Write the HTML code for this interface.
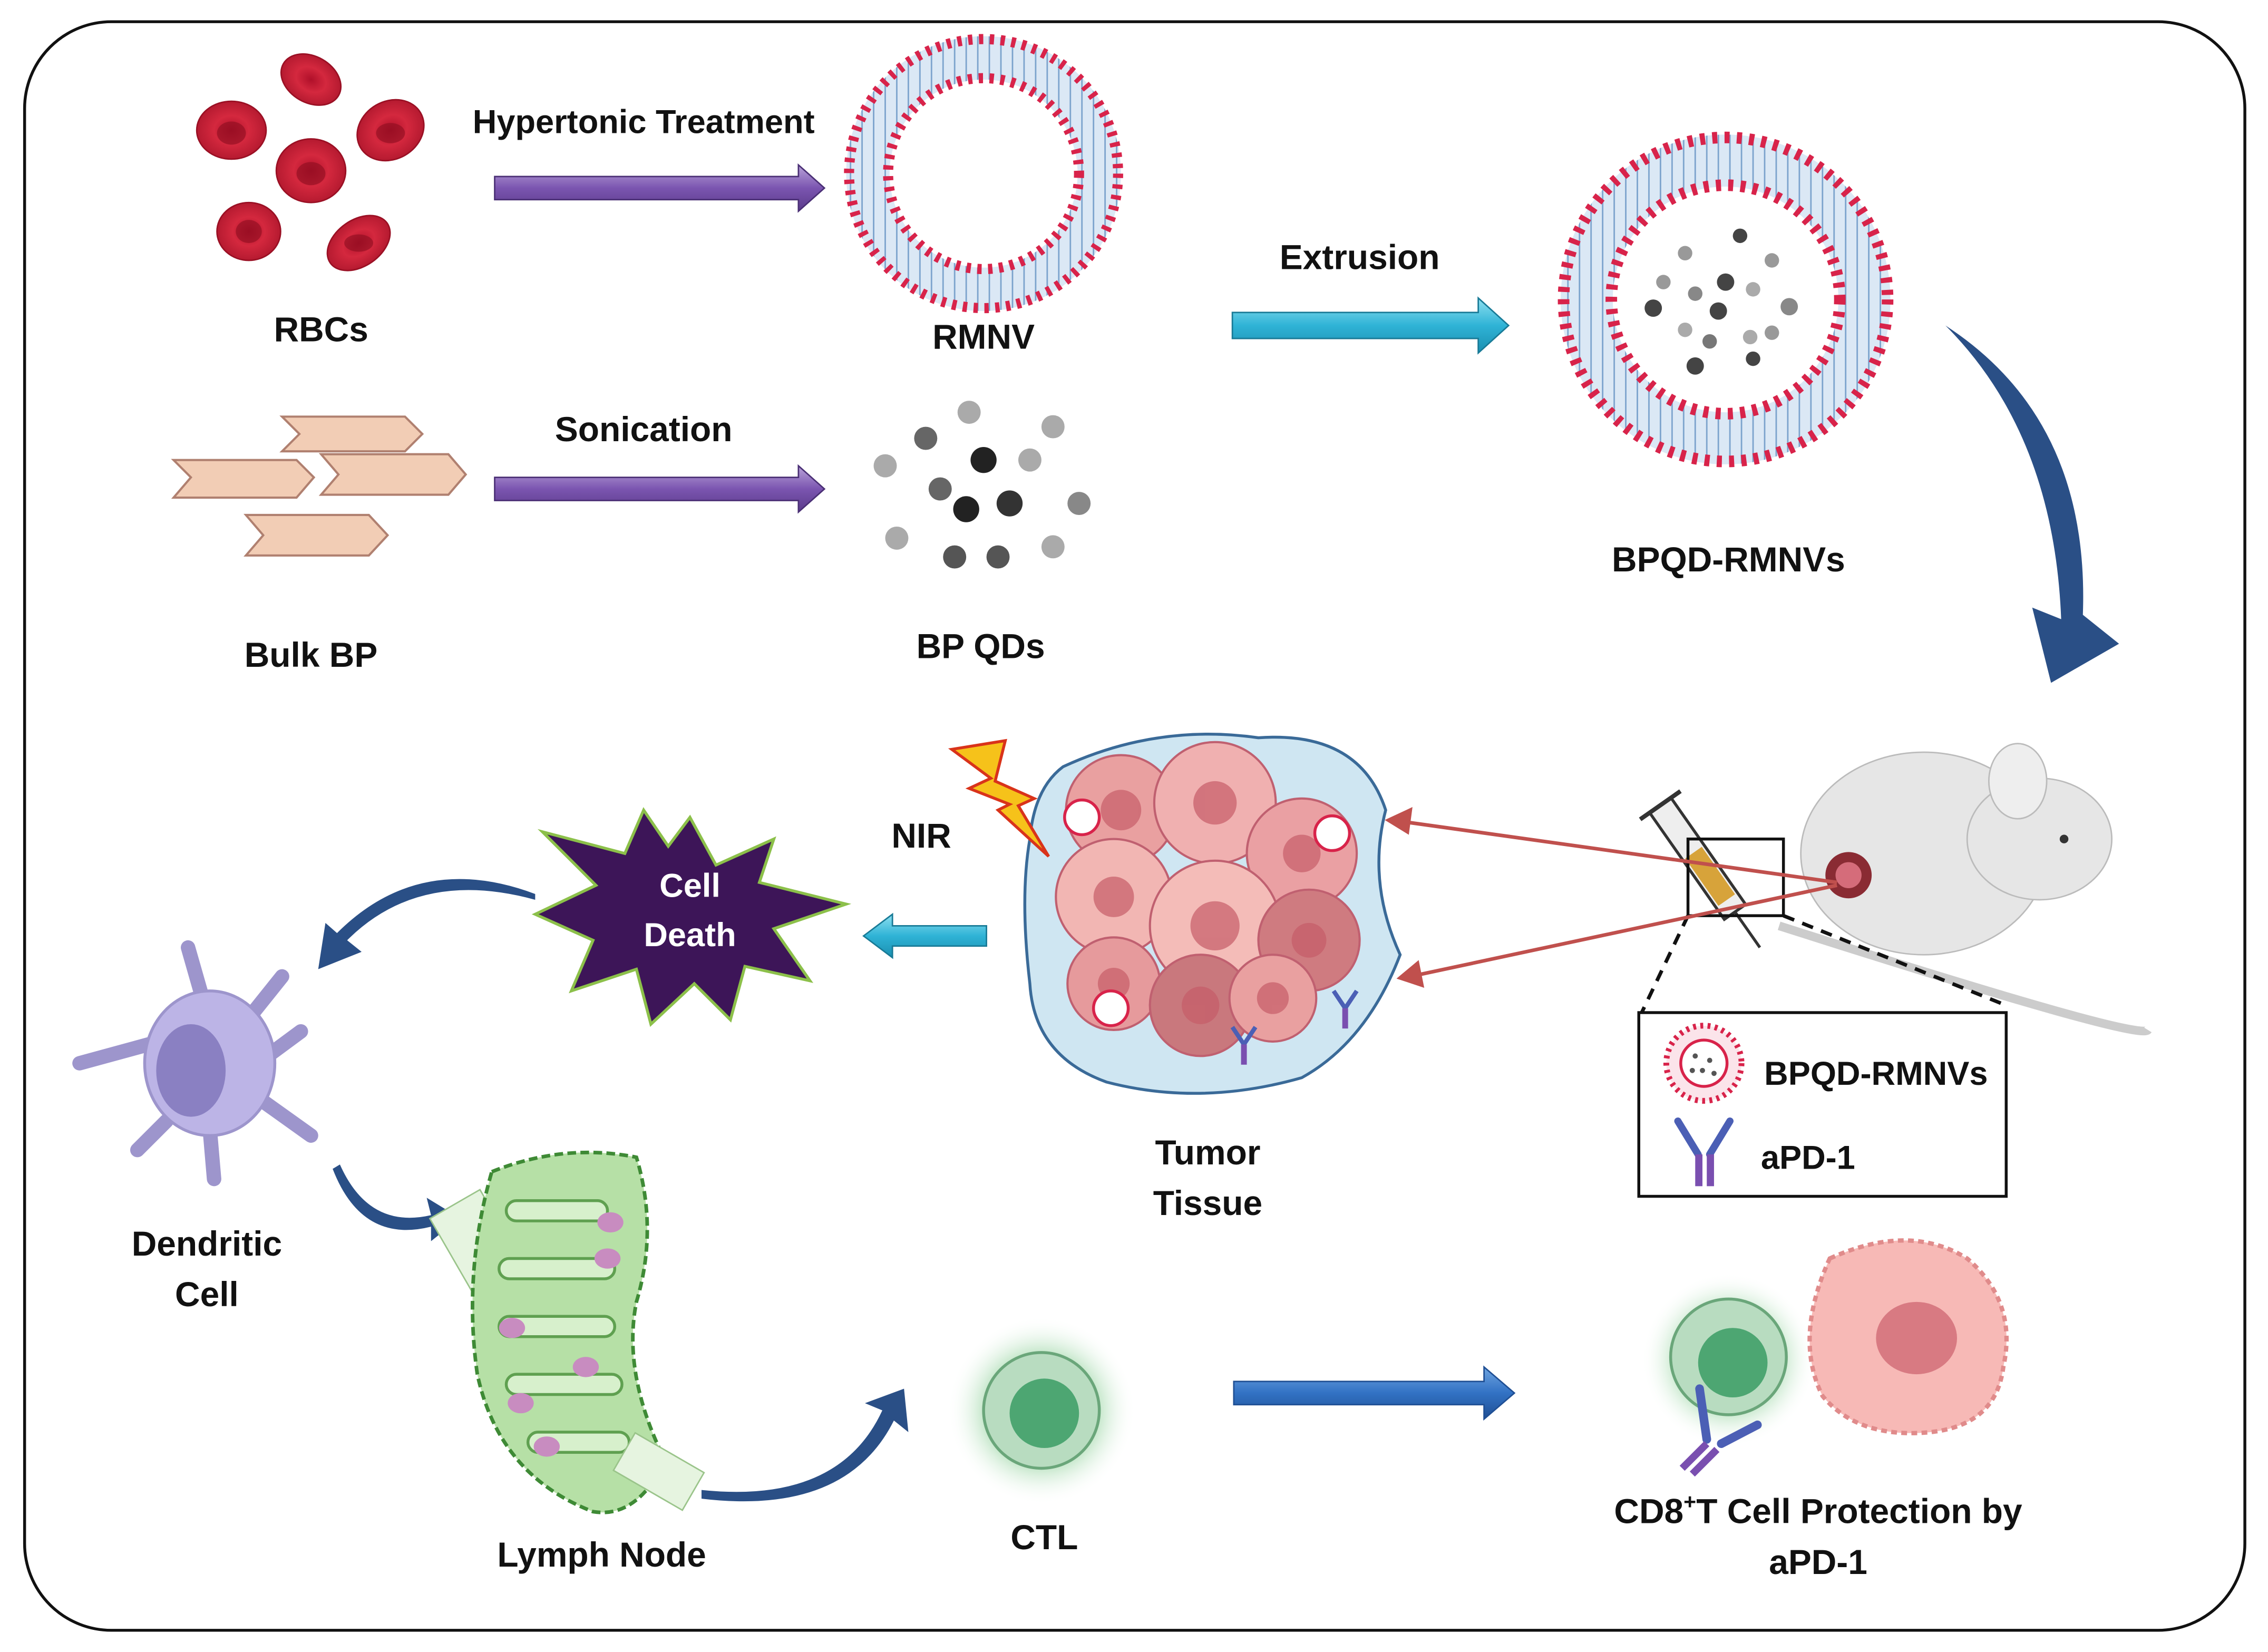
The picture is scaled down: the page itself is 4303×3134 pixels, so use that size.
<!DOCTYPE html>
<html><head><meta charset="utf-8"><style>
html,body{margin:0;padding:0;background:#fff}
svg{display:block}
text{font-family:"Liberation Sans",sans-serif;font-weight:bold;fill:#111}
</style></head><body>
<svg width="4303" height="3134" viewBox="0 0 1568 1142" xmlns="http://www.w3.org/2000/svg">
<defs>
<linearGradient id="pur" x1="0" y1="0" x2="0" y2="1"><stop offset="0" stop-color="#b9a3d9"/><stop offset="0.5" stop-color="#7b55b0"/><stop offset="1" stop-color="#5a3a8a"/></linearGradient>
<linearGradient id="cy" x1="0" y1="0" x2="0" y2="1"><stop offset="0" stop-color="#8ee0f0"/><stop offset="0.5" stop-color="#2fb3d6"/><stop offset="1" stop-color="#1a8fb0"/></linearGradient>
<linearGradient id="bl" x1="0" y1="0" x2="0" y2="1"><stop offset="0" stop-color="#6fa4e0"/><stop offset="0.5" stop-color="#3272c4"/><stop offset="1" stop-color="#1f4f94"/></linearGradient>
<radialGradient id="glow"><stop offset="0.5" stop-color="#9fd7a8"/><stop offset="1" stop-color="#fff" stop-opacity="0"/></radialGradient>
<radialGradient id="rbc"><stop offset="0" stop-color="#b0102a"/><stop offset="0.5" stop-color="#d4283e"/><stop offset="1" stop-color="#b51a30"/></radialGradient>
<pattern id="memb" width="8" height="8" patternUnits="userSpaceOnUse"><rect width="8" height="8" fill="#dbe8f5"/><line x1="4" y1="0" x2="4" y2="8" stroke="#7aa2cc" stroke-width="1"/></pattern>
</defs>
<rect x="17" y="15" width="1535" height="1112" rx="60" fill="#fff" stroke="#111" stroke-width="2"/>

<!-- RBCs -->
<g fill="url(#rbc)" stroke="#9a1024" stroke-width="1">
<ellipse cx="215" cy="55" rx="22" ry="16" transform="rotate(30 215 55)"/>
<ellipse cx="160" cy="90" rx="24" ry="20"/>
<ellipse cx="270" cy="90" rx="24" ry="20" transform="rotate(-30 270 90)"/>
<ellipse cx="215" cy="118" rx="24" ry="22"/>
<ellipse cx="172" cy="160" rx="22" ry="20"/>
<ellipse cx="248" cy="168" rx="24" ry="16" transform="rotate(-35 248 168)"/>
</g>
<g fill="#8c0d20" opacity="0.6"><ellipse cx="160" cy="92" rx="10" ry="8"/><ellipse cx="215" cy="120" rx="10" ry="8"/><ellipse cx="172" cy="160" rx="9" ry="8"/><ellipse cx="270" cy="92" rx="10" ry="7"/><ellipse cx="248" cy="168" rx="10" ry="6"/></g>
<text x="222" y="236" font-size="24" text-anchor="middle">RBCs</text>

<!-- purple arrows -->
<g fill="url(#pur)" stroke="#4a2f75" stroke-width="1">
<polygon points="342,122 552,122 552,114 570,130 552,146 552,138 342,138"/>
<polygon points="342,330 552,330 552,322 570,338 552,354 552,346 342,346"/>
</g>
<text x="445" y="92" font-size="23" text-anchor="middle">Hypertonic Treatment</text>
<text x="445" y="305" font-size="24" text-anchor="middle">Sonication</text>

<!-- RMNV -->
<circle cx="680" cy="120" r="80" fill="none" stroke="url(#memb)" stroke-width="30"/>
<circle cx="680" cy="120" r="93" fill="none" stroke="#d8234a" stroke-width="7" stroke-dasharray="3 4.5"/>
<circle cx="680" cy="120" r="66" fill="none" stroke="#d8234a" stroke-width="7" stroke-dasharray="3 4.5"/>
<text x="680" y="241" font-size="24" text-anchor="middle">RMNV</text>

<!-- Bulk BP -->
<g fill="#f2cdb5" stroke="#b08070" stroke-width="1.5">
<polygon points="195,288 280,288 292,300 280,312 195,312 207,300"/><polygon points="120,318 205,318 217,330 205,344 120,344 132,330"/>
<polygon points="222,314 310,314 322,328 310,342 222,342 234,328"/><polygon points="170,356 255,356 268,370 255,384 170,384 182,370"/>
</g>
<text x="215" y="461" font-size="24" text-anchor="middle">Bulk BP</text>

<!-- BP QDs -->
<g>
<circle cx="670" cy="285" r="8" fill="#aaa"/><circle cx="728" cy="295" r="8" fill="#aaa"/><circle cx="640" cy="303" r="8" fill="#666"/>
<circle cx="680" cy="318" r="9" fill="#222"/><circle cx="712" cy="318" r="8" fill="#aaa"/><circle cx="612" cy="322" r="8" fill="#aaa"/>
<circle cx="650" cy="338" r="8" fill="#666"/><circle cx="668" cy="352" r="9" fill="#222"/><circle cx="698" cy="348" r="9" fill="#333"/>
<circle cx="746" cy="348" r="8" fill="#888"/><circle cx="620" cy="372" r="8" fill="#aaa"/><circle cx="660" cy="385" r="8" fill="#555"/>
<circle cx="690" cy="385" r="8" fill="#555"/><circle cx="728" cy="378" r="8" fill="#aaa"/>
</g>
<text x="678" y="455" font-size="24" text-anchor="middle">BP QDs</text>

<!-- Extrusion -->
<polygon points="852,216 1022,216 1022,206 1043,225 1022,244 1022,234 852,234" fill="url(#cy)" stroke="#187a96"/>
<text x="940" y="186" font-size="24" text-anchor="middle">Extrusion</text>

<!-- BPQD-RMNV -->
<circle cx="1193" cy="207" r="96" fill="none" stroke="url(#memb)" stroke-width="36"/>
<circle cx="1193" cy="207" r="112" fill="none" stroke="#d8234a" stroke-width="8" stroke-dasharray="3.5 5"/>
<circle cx="1193" cy="207" r="79" fill="none" stroke="#d8234a" stroke-width="8" stroke-dasharray="3.5 5"/>
<g fill="#444"><circle cx="1203" cy="163" r="5"/><circle cx="1165" cy="175" r="5" fill="#999"/><circle cx="1225" cy="180" r="5" fill="#999"/><circle cx="1193" cy="195" r="6"/><circle cx="1150" cy="195" r="5" fill="#999"/><circle cx="1143" cy="213" r="6"/><circle cx="1172" cy="203" r="5" fill="#888"/><circle cx="1212" cy="200" r="5" fill="#aaa"/><circle cx="1188" cy="215" r="6"/><circle cx="1237" cy="212" r="6" fill="#888"/><circle cx="1165" cy="228" r="5" fill="#aaa"/><circle cx="1210" cy="233" r="5" fill="#aaa"/><circle cx="1182" cy="236" r="5" fill="#777"/><circle cx="1225" cy="230" r="5" fill="#999"/><circle cx="1172" cy="253" r="6"/><circle cx="1212" cy="248" r="5"/></g>
<text x="1195" y="395" font-size="24" text-anchor="middle">BPQD-RMNVs</text>

<!-- big curved arrow -->
<path d="M1345,225 Q1445,290 1440,425 L1465,445 L1418,472 L1405,420 L1425,428 Q1420,300 1345,225 Z" fill="#2a4f86"/>

<!-- Mouse -->
<g>
<path d="M1230,640 Q1480,720 1485,712" fill="none" stroke="#ccc" stroke-width="6"/>
<ellipse cx="1330" cy="590" rx="85" ry="70" fill="#e6e6e6" stroke="#bbb"/>
<ellipse cx="1410" cy="580" rx="50" ry="42" fill="#e6e6e6" stroke="#bbb"/>
<ellipse cx="1395" cy="540" rx="20" ry="26" fill="#eee" stroke="#bbb"/>
<circle cx="1427" cy="580" r="3" fill="#333"/>
<circle cx="1278" cy="605" r="16" fill="#8a2b33"/><circle cx="1278" cy="605" r="9" fill="#d56c7a"/>
</g>
<!-- syringe -->
<g transform="rotate(55 1170 590)"><rect x="1130" y="580" width="90" height="18" fill="#eee" stroke="#333" stroke-width="2"/><rect x="1170" y="582" width="40" height="14" fill="#d7a33a"/><line x1="1220" y1="589" x2="1250" y2="589" stroke="#333" stroke-width="2"/><line x1="1130" y1="572" x2="1130" y2="606" stroke="#333" stroke-width="3"/></g>
<rect x="1167" y="580" width="66" height="53" fill="none" stroke="#111" stroke-width="2"/>
<line x1="1167" y1="633" x2="1135" y2="700" stroke="#111" stroke-width="2.5" stroke-dasharray="8 6"/>
<line x1="1233" y1="633" x2="1387" y2="695" stroke="#111" stroke-width="2.5" stroke-dasharray="8 6"/>
<!-- red arrows -->
<g stroke="#c0504d" stroke-width="2.5" fill="#c0504d">
<line x1="1270" y1="610" x2="970" y2="568"/><polygon points="960,567 975,560 973,575"/>
<line x1="1270" y1="612" x2="980" y2="674"/><polygon points="968,676 980,666 983,681"/>
</g>
<!-- legend -->
<rect x="1133" y="700" width="254" height="127" fill="#fff" stroke="#111" stroke-width="2"/>
<circle cx="1178" cy="735" r="26" fill="#fbe4ea" stroke="#d8234a" stroke-width="4" stroke-dasharray="2 3"/>
<circle cx="1178" cy="735" r="16" fill="#fff" stroke="#d8234a" stroke-width="2"/>
<g fill="#555"><circle cx="1172" cy="730" r="1.8"/><circle cx="1182" cy="733" r="1.8"/><circle cx="1177" cy="740" r="1.8"/><circle cx="1185" cy="742" r="1.8"/><circle cx="1170" cy="740" r="1.8"/></g>
<text x="1297" y="750" font-size="23" text-anchor="middle">BPQD-RMNVs</text>
<g stroke="#4b5fb5" stroke-width="5" stroke-linecap="round" fill="none"><path d="M1160,775 L1174,798"/><path d="M1196,775 L1182,798"/></g>
<rect x="1172" y="798" width="5" height="22" fill="#7a4fb0"/><rect x="1180" y="798" width="5" height="22" fill="#7a4fb0"/>
<text x="1250" y="808" font-size="23" text-anchor="middle">aPD-1</text>

<!-- Tumor -->
<path d="M735,530 Q800,500 870,510 Q940,505 958,560 Q945,610 968,660 Q945,720 900,745 Q830,765 765,748 Q715,730 712,680 Q705,620 712,580 Q715,545 735,530 Z" fill="#cfe6f2" stroke="#3a6a98" stroke-width="2"/>
<g stroke="#c06070" stroke-width="1.5">
<circle cx="775" cy="560" r="38" fill="#e9a0a0"/><circle cx="840" cy="555" r="42" fill="#f0b0b0"/><circle cx="900" cy="590" r="38" fill="#eaa0a3"/>
<circle cx="770" cy="620" r="40" fill="#f2b6b3"/><circle cx="840" cy="640" r="45" fill="#f4bcb8"/><circle cx="905" cy="650" r="35" fill="#cf7b80"/>
<circle cx="770" cy="680" r="32" fill="#e69a9c"/><circle cx="830" cy="695" r="35" fill="#c9787d"/><circle cx="880" cy="690" r="30" fill="#e9a0a0"/>
</g>
<g fill="#c65c68" opacity="0.7"><circle cx="775" cy="560" r="14"/><circle cx="840" cy="555" r="15"/><circle cx="900" cy="590" r="13"/><circle cx="770" cy="620" r="14"/><circle cx="840" cy="640" r="17"/><circle cx="905" cy="650" r="12"/><circle cx="770" cy="680" r="11"/><circle cx="830" cy="695" r="13"/><circle cx="880" cy="690" r="11"/></g>
<g fill="#fff" stroke="#d8234a" stroke-width="2"><circle cx="748" cy="565" r="12"/><circle cx="921" cy="576" r="12"/><circle cx="768" cy="697" r="12"/></g>
<g stroke="#4b5fb5" stroke-width="3" fill="none"><path d="M852,710 L860,722 L868,710"/><path d="M922,685 L930,697 L938,685"/></g>
<g fill="#7a4fb0"><rect x="858" y="722" width="4" height="14"/><rect x="928" y="697" width="4" height="14"/></g>
<text x="835" y="805" font-size="24" text-anchor="middle">Tumor</text>
<text x="835" y="840" font-size="24" text-anchor="middle">Tissue</text>
<!-- lightning -->
<polygon points="658,518 695,512 688,540 715,552 704,557 725,592 690,560 698,556 670,545 685,538" fill="#f6c21a" stroke="#d9331a" stroke-width="2"/>
<text x="637" y="586" font-size="24" text-anchor="middle">NIR</text>
<polygon points="682,640 617,640 617,632 597,647 617,662 617,654 682,654" fill="url(#cy)" stroke="#187a96"/>

<!-- Cell death star -->
<polygon points="477,565 495,598 535,580 525,610 585,625 535,642 560,678 515,668 505,705 480,680 450,708 440,670 395,685 410,650 370,632 412,612 375,575 432,590 445,560 462,585" fill="#3d1558" stroke="#8cc04a" stroke-width="2"/>
<text x="477" y="620" font-size="23" text-anchor="middle" style="fill:#fff">Cell</text>
<text x="477" y="654" font-size="23" text-anchor="middle" style="fill:#fff">Death</text>
<!-- curved arrows -->
<path d="M370,622 Q290,600 240,650 L250,658 L220,670 L225,638 L233,645 Q290,588 370,618 Z" fill="#2a4f86"/>
<path d="M235,805 Q255,850 298,840 L295,828 L318,842 L298,858 L298,848 Q250,860 230,808 Z" fill="#2a4f86"/>
<path d="M485,1030 Q580,1040 610,975 L598,970 L625,960 L628,990 L618,982 Q585,1048 485,1036 Z" fill="#2a4f86"/>

<!-- Dendritic cell -->
<g stroke="#9d95cc" stroke-width="10" stroke-linecap="round" fill="none">
<path d="M140,690 L130,655"/><path d="M110,720 L55,735"/><path d="M175,700 L195,675"/><path d="M180,760 L215,785"/><path d="M145,780 L148,815"/><path d="M115,775 L95,795"/><path d="M185,730 L208,713"/>
</g>
<ellipse cx="145" cy="735" rx="45" ry="50" fill="#bcb4e6" stroke="#9d95cc" stroke-width="2"/>
<ellipse cx="132" cy="740" rx="24" ry="32" fill="#8a80c2"/>
<text x="143" y="868" font-size="24" text-anchor="middle">Dendritic</text>
<text x="143" y="903" font-size="24" text-anchor="middle">Cell</text>

<!-- Lymph node -->
<rect x="322" y="825" width="40" height="110" fill="#e6f4e0" stroke="#9ac48a" transform="rotate(-30 342 880)"/>
<path d="M340,810 Q390,790 440,800 Q455,850 440,900 Q430,950 460,1010 Q440,1050 410,1045 Q345,1020 330,950 Q320,880 340,810 Z" fill="#b6e0a6" stroke="#3e8a35" stroke-width="2.5" stroke-dasharray="6 3"/>
<g fill="#d7f0cc" stroke="#5fa050" stroke-width="2"><rect x="350" y="830" width="70" height="14" rx="7"/><rect x="345" y="870" width="80" height="14" rx="7"/><rect x="345" y="910" width="80" height="14" rx="7"/><rect x="350" y="950" width="80" height="14" rx="7"/><rect x="365" y="990" width="70" height="14" rx="7"/></g>
<g fill="#c88cc0"><ellipse cx="422" cy="845" rx="9" ry="7"/><ellipse cx="420" cy="870" rx="9" ry="7"/><ellipse cx="354" cy="918" rx="9" ry="7"/><ellipse cx="405" cy="945" rx="9" ry="7"/><ellipse cx="360" cy="970" rx="9" ry="7"/><ellipse cx="378" cy="1000" rx="9" ry="7"/></g>
<rect x="440" y="990" width="30" height="55" fill="#e6f4e0" stroke="#9ac48a" transform="rotate(-60 455 1017)"/>
<text x="416" y="1083" font-size="24" text-anchor="middle">Lymph Node</text>

<!-- CTL -->
<circle cx="720" cy="975" r="65" fill="url(#glow)"/>
<circle cx="720" cy="975" r="40" fill="#b8dcc0" stroke="#6aa67a" stroke-width="2"/>
<circle cx="722" cy="977" r="24" fill="#4da672"/>
<text x="722" y="1071" font-size="24" text-anchor="middle">CTL</text>
<polygon points="853,955 1026,955 1026,945 1047,963 1026,981 1026,971 853,971" fill="url(#bl)" stroke="#1f4f94"/>

<!-- CD8 + tumor cell -->
<circle cx="1195" cy="940" r="60" fill="url(#glow)"/>
<circle cx="1195" cy="938" r="40" fill="#b8dcc0" stroke="#6aa67a" stroke-width="2"/>
<circle cx="1198" cy="942" r="24" fill="#4da672"/>
<g stroke="#4b5fb5" stroke-width="6" stroke-linecap="round" fill="none"><path d="M1175,960 L1180,995"/><path d="M1215,985 L1190,998"/></g>
<g stroke="#7a4fb0" stroke-width="5"><line x1="1180" y1="998" x2="1163" y2="1015"/><line x1="1187" y1="1002" x2="1170" y2="1019"/></g>
<path d="M1265,870 Q1320,845 1360,870 Q1395,900 1385,945 Q1380,985 1335,990 Q1285,995 1260,965 Q1240,925 1265,870 Z" fill="#f7b9b6" stroke="#e08b8b" stroke-width="3" stroke-dasharray="4 3"/>
<ellipse cx="1325" cy="925" rx="28" ry="25" fill="#d87a82"/>
<text x="1257" y="1053" font-size="24" text-anchor="middle">CD8<tspan font-size="15" dy="-10">+</tspan><tspan dy="10">T Cell Protection by</tspan></text>
<text x="1257" y="1088" font-size="24" text-anchor="middle">aPD-1</text>
</svg>
</body></html>
